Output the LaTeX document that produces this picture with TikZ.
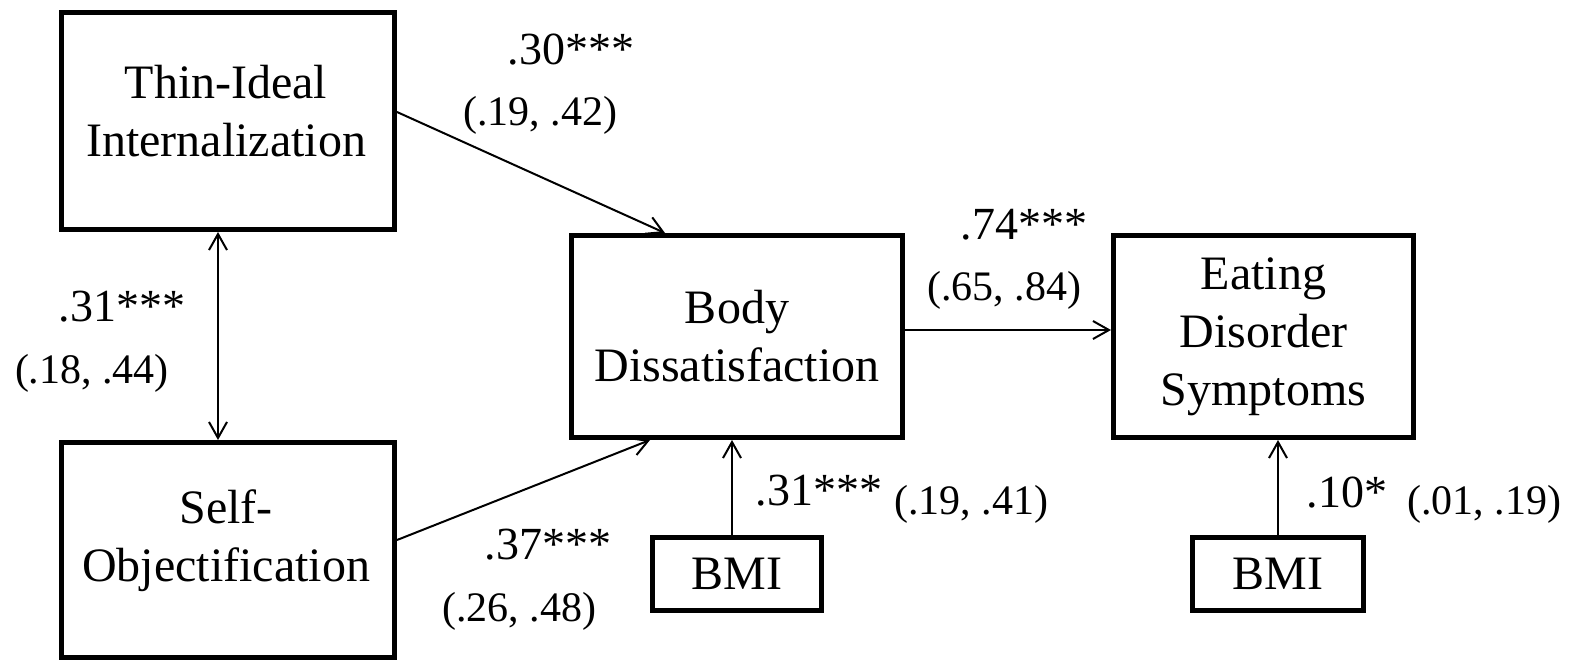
\documentclass[tikz,border=0pt]{standalone}
\usepackage{fontspec}
\setmainfont{Liberation Serif}
\usetikzlibrary{arrows.meta}
\begin{document}
\begin{tikzpicture}[x=0.5pt,y=-0.5pt,
  box/.style={draw,line width=2.5pt,inner sep=0pt,anchor=center},
  txt/.style={align=center,font=\fontsize{24}{29}\selectfont,inner sep=0pt},
  coef/.style={font=\fontsize{23}{27}\selectfont,inner sep=0pt},
  ci/.style={font=\fontsize{21}{25}\selectfont,inner sep=0pt},
  barb/.tip={Straight Barb[length=8pt,width=9pt,line width=1pt]},
  link/.style={line width=1pt,-barb},
  dlink/.style={line width=1pt,barb-barb},
]
\useasboundingbox (0,0) rectangle (1575,665);

% boxes
\node[box,minimum width=166.5pt,minimum height=108.5pt] (ti) at (228,121) {};
\node[txt] (titxt) at (226,111) {Thin-Ideal\\Internalization};
\node[box,minimum width=166.5pt,minimum height=107.5pt] (so) at (228,550) {};
\node[txt] (sotxt) at (226,541) {Self-\\Objectification};
\node[box,txt,draw,line width=2.5pt,minimum width=165.5pt,minimum height=101pt] (bd) at (737,336.5) {Body\\Dissatisfaction};
\node[box,txt,draw,line width=2.5pt,minimum width=150pt,minimum height=101pt] (ed) at (1263.5,336.5) {Eating\\Disorder\\Symptoms};
\node[box,txt,draw,line width=2.5pt,minimum width=84.5pt,minimum height=36.5pt] (bmia) at (737,574) {BMI};
\node[box,txt,draw,line width=2.5pt,minimum width=85.5pt,minimum height=36.5pt] (bmib) at (1278,574) {BMI};

% connectors
\draw[link] ([yshift=4.5pt]ti.east) -- ([xshift=-36pt]bd.north);
\draw[link] ([yshift=5pt]so.east) -- ([xshift=-43.5pt]bd.south);
\draw[dlink] ([xshift=-5pt]ti.south) -- ([xshift=-5pt]so.north);
\draw[link] ([yshift=3.25pt]bd.east) -- ([yshift=3.25pt]ed.west);
\draw[link] ([xshift=-2.5pt]bmia.north) -- ([xshift=-2.5pt]bd.south);
\draw[link] (bmib.north) -- (bmib.north |- ed.south);

% labels
\node[coef] (c1) at (571,50) {.30***};
\node[ci] (i1) at (540,115) {(.19, .42)};
\node[coef] (c2) at (122,307) {.31***};
\node[ci] (i2) at (92,373) {(.18, .44)};
\node[coef] (c3) at (1024,225) {.74***};
\node[ci] (i3) at (1004,290) {(.65, .84)};
\node[coef] (c4) at (548,545) {.37***};
\node[ci] (i4) at (519,611) {(.26, .48)};
\node[coef] (c5) at (819,491) {.31***};
\node[ci] (i5) at (971,504) {(.19, .41)};
\node[coef] (c6) at (1347,493) {.10*};
\node[ci] (i6) at (1484,504) {(.01, .19)};
\end{tikzpicture}
\end{document}
